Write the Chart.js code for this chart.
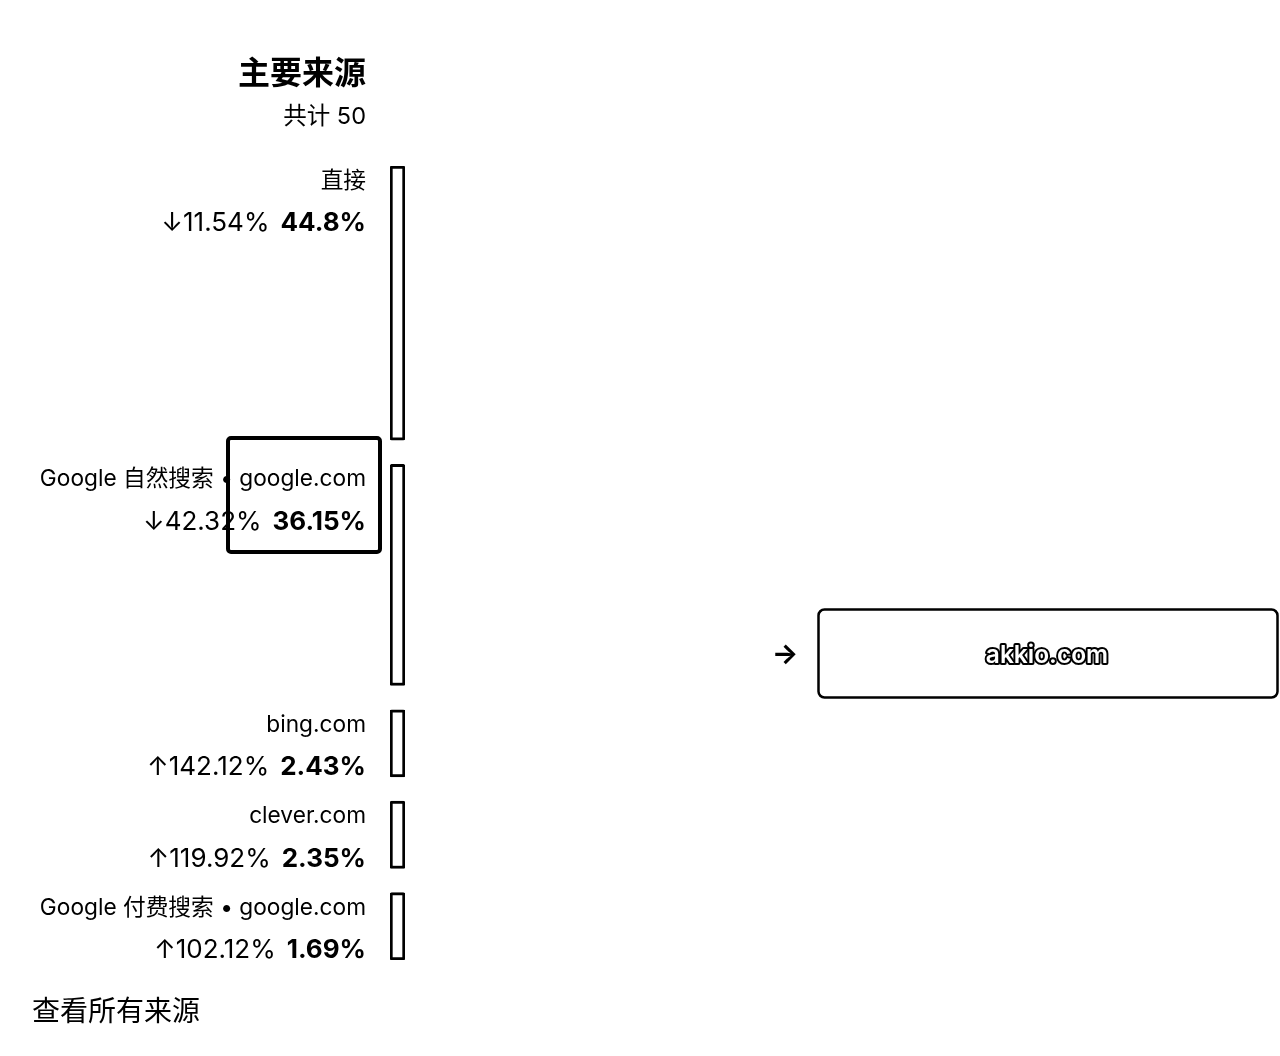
<!DOCTYPE html>
<html>
<head>
<meta charset="utf-8">
<script src="https://cdn.jsdelivr.net/npm/chart.js@4"></script>
<style>
  html, body { margin: 0; padding: 0; background: #fff; }
  body { width: 1280px; height: 1056px; position: relative; overflow: hidden;
         font-family: Inter, "Noto Sans CJK SC", sans-serif; color: #000; }
  #c { position: absolute; left: 0; top: 0; }
  .t { position: absolute; white-space: nowrap; line-height: 1; }
  #title { right: 914px; top: 57px; font-size: 32px; font-weight: 700; }
  #sub { right: 914px; top: 104px; font-size: 23.5px; }
  #foot { left: 32px; top: 997px; font-size: 28px; }
</style>
</head>
<body>
<canvas id="c" width="1280" height="1056"></canvas>
<div class="t" id="title">主要来源</div>
<div class="t" id="sub">共计 50</div>
<div class="t" id="foot">查看所有来源</div>
<script>
const sources = ['直接', 'Google 自然搜索 • google.com', 'bing.com', 'clever.com', 'Google 付费搜索 • google.com'];
const shares = [44.8, 36.15, 2.43, 2.35, 1.69];
const changes = [-11.54, -42.32, 142.12, 119.92, 102.12];
const targetName = 'akkio.com';
const MIN_UNITS = 11;   // minimum displayed node size (share units)
const GAP_UNITS = 3.95; // gap between nodes (share units)

// floating bar ranges built from the shares
const ranges = [];
let pos = 0;
shares.forEach((s, i) => {
  const h = Math.max(s, MIN_UNITS);
  ranges.push([pos, pos + h]);
  pos += h + (i < shares.length - 1 ? GAP_UNITS : 0);
});
const totalUnits = pos;

const FONT = 'Inter, "Noto Sans CJK SC", sans-serif';

const labelPlugin = {
  id: 'labels',
  afterDatasetsDraw(chart) {
    const ctx = chart.ctx;
    ctx.save();
    const xRight = 366;
    chart.data.datasets.forEach((ds, i) => {
      const el = chart.getDatasetMeta(i).data[0];
      const top = Math.min(el.y, el.base);
      ctx.fillStyle = '#000';
      ctx.textBaseline = 'middle';
      ctx.textAlign = 'right';
      ctx.font = '400 22.7px ' + FONT;
      ctx.fillText(sources[i], xRight, top + 15);
      ctx.font = '700 26px ' + FONT;
      const shareTxt = shares[i] + '%';
      ctx.fillText(shareTxt, xRight, top + 57.5);
      const w = ctx.measureText(shareTxt).width;
      ctx.font = '400 26px ' + FONT;
      const ch = (changes[i] < 0 ? '↓' : '↑') + Math.abs(changes[i]).toFixed(2) + '%';
      ctx.fillText(ch, xRight - w - 11, top + 57.5);
    });

    // highlight frame
    ctx.lineWidth = 4;
    ctx.strokeStyle = '#000';
    ctx.beginPath();
    ctx.roundRect(228, 438, 152, 114, 3);
    ctx.stroke();

    // target node
    ctx.lineWidth = 2.5;
    ctx.beginPath();
    ctx.roundRect(818.5, 609.5, 459, 88, 6);
    ctx.stroke();
    ctx.font = '700 28px ' + FONT;
    ctx.textAlign = 'center';
    ctx.fillText('→', 785, 655);
    ctx.font = '600 24.5px ' + FONT;
    ctx.lineJoin = 'round';
    ctx.lineWidth = 4;
    ctx.strokeText(targetName, 1047, 656);
    ctx.fillStyle = '#fff';
    ctx.fillText(targetName, 1047, 656);
    ctx.restore();
  }
};

new Chart(document.getElementById('c'), {
  type: 'bar',
  data: {
    labels: [''],
    datasets: sources.map((s, i) => ({
      label: s,
      data: [ranges[i]],
      backgroundColor: '#fff',
      borderColor: '#000',
      borderWidth: 3,
      borderRadius: 2,
      borderSkipped: false,
      barThickness: 15,
      grouped: false
    }))
  },
  options: {
    responsive: false,
    animation: false,
    devicePixelRatio: 1,
    layout: { padding: { top: 166, bottom: 96, left: 390, right: 875 } },
    plugins: { legend: { display: false }, tooltip: { enabled: false } },
    scales: {
      x: { display: false },
      y: { display: false, reverse: true, min: 0, max: totalUnits }
    }
  },
  plugins: [labelPlugin]
});
</script>
</body>
</html>
